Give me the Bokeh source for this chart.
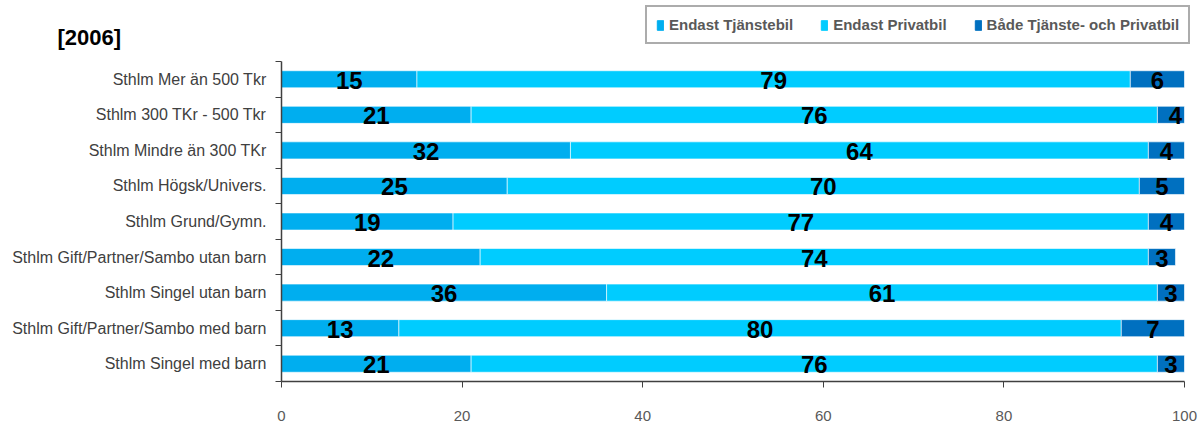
import numpy as np
from bokeh.plotting import figure
from bokeh.layouts import column, row
from bokeh.models import (ColumnDataSource, Range1d, FixedTicker, Legend, LegendItem, Label)
from bokeh.core.properties import value
from bokeh.embed import file_html
from bokeh.resources import INLINE

categories = [
    "Sthlm Mer än 500 Tkr",
    "Sthlm 300 TKr - 500 Tkr",
    "Sthlm Mindre än 300 TKr",
    "Sthlm Högsk/Univers.",
    "Sthlm Grund/Gymn.",
    "Sthlm Gift/Partner/Sambo utan barn",
    "Sthlm Singel utan barn",
    "Sthlm Gift/Partner/Sambo med barn",
    "Sthlm Singel med barn",
]
tjanst = [15, 21, 32, 25, 19, 22, 36, 13, 21]
privat = [79, 76, 64, 70, 77, 74, 61, 80, 76]
bada = [6, 4, 4, 5, 4, 3, 3, 7, 3]
series_names = ["Endast Tjänstebil", "Endast Privatbil", "Både Tjänste- och Privatbil"]
colors = ["#00AEEF", "#00CCFF", "#0070C0"]
x_ticks = [0, 20, 40, 60, 80, 100]
title_text = "[2006]"

FONT = "Liberation Sans"
W = 1200
HEAD_H = 60

# ---------- header (title + legend) ----------
head = figure(width=W, height=HEAD_H, output_backend="svg", toolbar_location=None,
              x_range=Range1d(0, W), y_range=Range1d(HEAD_H, 0),
              x_axis_location=None, y_axis_location=None,
              min_border=0, min_border_left=0, min_border_right=0,
              min_border_top=0, min_border_bottom=0)
head.outline_line_color = None
head.xgrid.visible = False
head.ygrid.visible = False

head.add_layout(Label(x=57, y=37, text=title_text, text_font=FONT,
                      text_font_style="bold", text_font_size="22px",
                      text_color="black", text_baseline="alphabetic"))

# legend swatches (no visible data in the header)
dummies = [head.hbar(y=[np.nan], right=[np.nan], height=1, color=c) for c in colors]
legend = Legend(items=[LegendItem(label=s, renderers=[r]) for s, r in zip(series_names, dummies)],
                orientation="horizontal", location=(645, 16))
legend.label_text_font = FONT
legend.label_text_font_style = "bold"
legend.label_text_font_size = "15px"
legend.label_text_color = "#595959"
legend.glyph_width = 8
legend.glyph_height = 12
legend.label_standoff = 5
legend.spacing = 27
legend.padding = 9
legend.margin = 0
legend.border_line_color = "#595959"
legend.border_line_width = 2
legend.background_fill_color = "white"
head.add_layout(legend, "center")

# ---------- main chart ----------
n = len(categories)
ypos = np.arange(n) + 0.5
source = ColumnDataSource(dict(y=ypos, tjanst=tjanst, privat=privat, bada=bada))

p = figure(width=W, height=366, output_backend="svg", toolbar_location=None,
           x_range=Range1d(0, 100), y_range=Range1d(n, 0),
           min_border_left=281, min_border_right=16, min_border_top=1, min_border_bottom=45)
p.outline_line_color = None
p.xgrid.visible = False
p.ygrid.visible = False

p.hbar_stack(["tjanst", "privat", "bada"], y="y", height=0.48,
             color=colors, line_color="white", line_width=0.6, source=source)

vals = np.array([tjanst, privat, bada], dtype=float)
cum = np.cumsum(vals, axis=0)
starts = cum - vals
for k in range(3):
    centers = starts[k] + vals[k] / 2
    p.text(x=centers, y=ypos, text=[str(int(v)) for v in vals[k]],
           text_font=value(FONT), text_font_style="bold", text_font_size="24px",
           text_color="black", text_align="center", text_baseline="middle", y_offset=1)

xa = p.xaxis[0]
xa.ticker = FixedTicker(ticks=x_ticks, minor_ticks=[])
xa.axis_line_color = "#404040"
xa.axis_line_width = 1.5
xa.major_tick_line_color = "#404040"
xa.major_tick_in = 0
xa.major_tick_out = 6
xa.minor_tick_out = 0
xa.major_label_standoff = 23
xa.major_label_text_font = FONT
xa.major_label_text_font_size = "15px"
xa.major_label_text_color = "#595959"

ya = p.yaxis[0]
ya.ticker = FixedTicker(ticks=list(ypos), minor_ticks=list(range(n + 1)))
ya.major_label_overrides = {float(y): c for y, c in zip(ypos, categories)}
ya.axis_line_color = "#404040"
ya.axis_line_width = 1.5
ya.major_tick_in = 0
ya.major_tick_out = 0
ya.minor_tick_in = 0
ya.minor_tick_out = 6
ya.minor_tick_line_color = "#404040"
ya.major_label_standoff = 9
ya.major_label_text_font = FONT
ya.major_label_text_font_size = "16px"
ya.major_label_text_color = "#404040"

layout = column(row(head), p, spacing=0)
open("out.html", "w").write(file_html(layout, INLINE))
